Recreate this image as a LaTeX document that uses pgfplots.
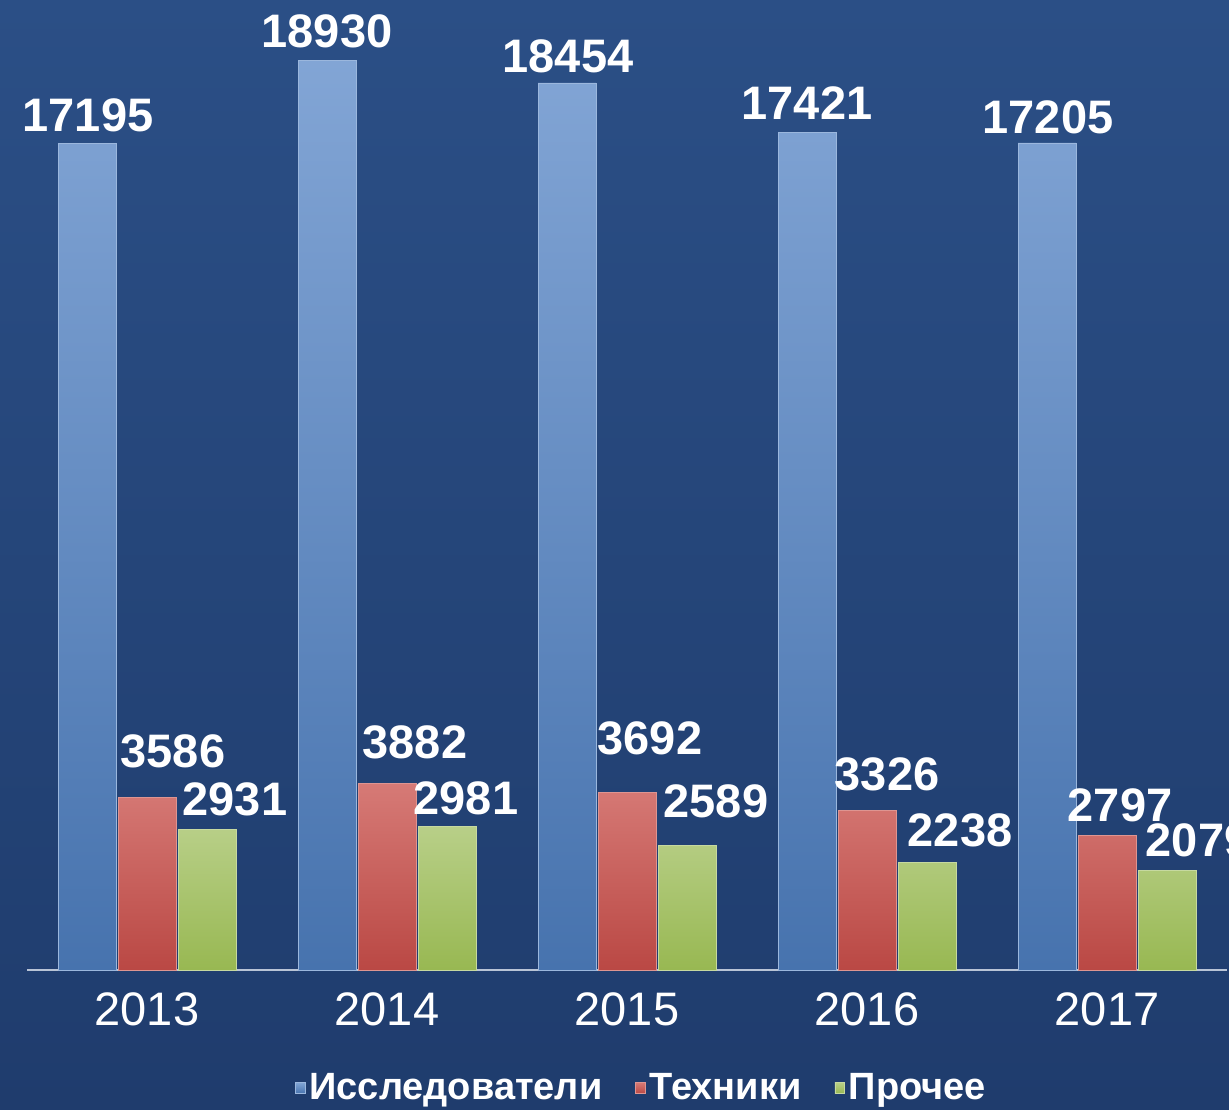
\documentclass[border=0pt]{standalone}
\usepackage{pgfplots}
\pgfplotsset{compat=1.18}
\usepackage{fontspec}
\setmainfont{Liberation Sans}
\definecolor{bgtop}{HTML}{2B4F86}
\definecolor{bgbot}{HTML}{1F3C6D}
\definecolor{bluetop}{HTML}{82A5D5}
\definecolor{bluebot}{HTML}{4773AE}
\definecolor{redtop}{HTML}{D67A76}
\definecolor{redbot}{HTML}{BA4844}
\definecolor{greentop}{HTML}{B8CF88}
\definecolor{greenbot}{HTML}{98B852}
\definecolor{axisc}{HTML}{B9C4D6}
\pgfplotstableread{
x y dx dy
0 17195 0.5 5.5
1 18930 0 6
2 18454 0.5 5
3 17421 0 6.5
4 17205 0.5 4.5
}\blue
\pgfplotstableread{
x y dx dy
0 3586 13 14.5
1 3882 14 12
2 3692 11.5 18.5
3 3326 10 9.5
4 2797 6.5 6.5
}\red
\pgfplotstableread{
x y dx dy
0 2931 14 6.5
1 2981 9.5 5.5
2 2589 14.5 13.5
3 2238 16.5 7.5
4 2079 15.5 6.5
}\green
\begin{document}
\begin{tikzpicture}
\useasboundingbox (0,0) rectangle (614.5pt,554.5pt);
\shade[top color=bgtop, bottom color=bgbot] (0,0) rectangle (614.5pt,554.5pt);
\begin{axis}[
  at={(13.5pt,69.5pt)}, anchor=south west,
  scale only axis, width=600pt, height=485pt,
  xmin=-0.5, xmax=4.5, ymin=0, ymax=20180,
  clip=false,
  axis x line*=bottom, axis y line=none,
  x axis line style={draw=axisc, line width=1pt},
  xtick={0,1,2,3,4},
  xticklabels={2013,2014,2015,2016,2017},
  major tick length=0pt,
  xticklabel style={font=\fontsize{23.5}{28}\selectfont, text=white, inner sep=0pt, yshift=-11pt},
  ytick=\empty,
  ybar=1pt, bar width=29pt,
  nodes near coords,
  point meta=explicit symbolic,
  visualization depends on={\thisrow{dx}\as\mydx},
  visualization depends on={\thisrow{dy}\as\mydy},
  nodes near coords style={font=\fontsize{23.5}{28}\selectfont\bfseries, text=white, anchor=south, inner sep=0pt, xshift=\mydx pt, yshift=\mydy pt},
  legend columns=3,
  legend style={at={(0.5117,-0.1216)}, anchor=center, draw=none, fill=none, text=white,
    font=\fontsize{19}{22}\selectfont\bfseries,
    /tikz/every odd column/.append style={column sep=1.5pt},
    /tikz/every even column/.append style={column sep=16pt},
    inner sep=0pt, nodes={inner sep=0.5pt}},
  mylegend/.style={legend image code/.code={\fill[##1] (0pt,-2.8pt) rectangle (4.8pt,2.8pt);}},
]
\addplot[draw=bluetop!80!white, line width=0.4pt, top color=bluetop, bottom color=bluebot, mylegend] table[x=x, y=y, meta=y] {\blue};
\addplot[draw=redtop!80!white, line width=0.4pt, top color=redtop, bottom color=redbot, mylegend] table[x=x, y=y, meta=y] {\red};
\addplot[draw=greentop!80!white, line width=0.4pt, top color=greentop, bottom color=greenbot, mylegend] table[x=x, y=y, meta=y] {\green};
\legend{Исследователи, Техники, Прочее}
\end{axis}
\end{tikzpicture}
\end{document}
